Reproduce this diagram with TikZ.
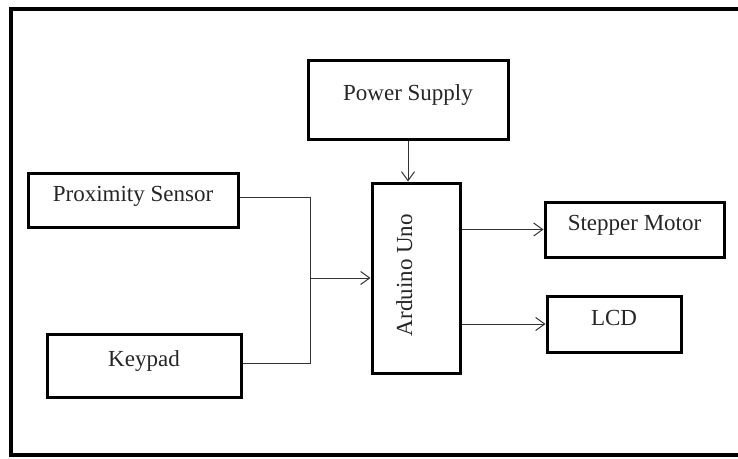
\documentclass[tikz,border=0pt]{standalone}
\usepackage{fontspec}
\setmainfont{Liberation Serif}
\usetikzlibrary{arrows.meta}
\tikzset{
  blk/.style={draw=black, line width=3pt, inner sep=0pt, text height=9pt, text depth=7pt,
              font=\fontsize{23}{27}\selectfont, text=black!85},
  conn/.style={draw=black!80, line width=1pt},
  arr/.style={conn, -{Straight Barb[length=9pt, width=13pt, line width=1pt]}},
  lbl/.style={font=\fontsize{23}{27}\selectfont, text=black!85, inner sep=0pt}
}
\begin{document}
\begin{tikzpicture}[x=1pt, y=-1pt]
\useasboundingbox[fill=white] (0,0) rectangle (738,458);
% outer frame (right side beyond picture)
\draw[line width=4pt, line join=miter] (745,9) -- (11,9) -- (11,455) -- (745,455);

\node[blk, minimum width=200pt, minimum height=79pt] (ps) at (408,99.5) {Power Supply};
\node[blk, minimum width=210pt, minimum height=54pt] (prox) at (133,200) {Proximity Sensor};
\node[blk, minimum width=194pt, minimum height=63pt] (key) at (144,365.5) {Keypad};
\node[blk, minimum width=88pt, minimum height=190pt] (ard) at (416,278) {};
\node[lbl, rotate=90, anchor=base] (ardlbl) at (412,275) {Arduino Uno};
\node[blk, minimum width=179pt, minimum height=55pt] (step) at (634.5,229.5) {Stepper Motor};
\node[blk, minimum width=134pt, minimum height=56pt] (lcd) at (614,324) {LCD};

\coordinate (j) at (310,278);
\draw[arr] (ps.south) -- (ard.north -| ps.south);
\draw[conn] ([yshift=3pt]prox.east) -| (j);
\draw[conn] ([yshift=2.5pt]key.east) -| (j);
\draw[arr] (j) -- (ard.west |- j);
\draw[arr] (ard.east |- step.west) -- (step.west);
\draw[arr] (ard.east |- lcd.west) -- (lcd.west);
\end{tikzpicture}
\end{document}
